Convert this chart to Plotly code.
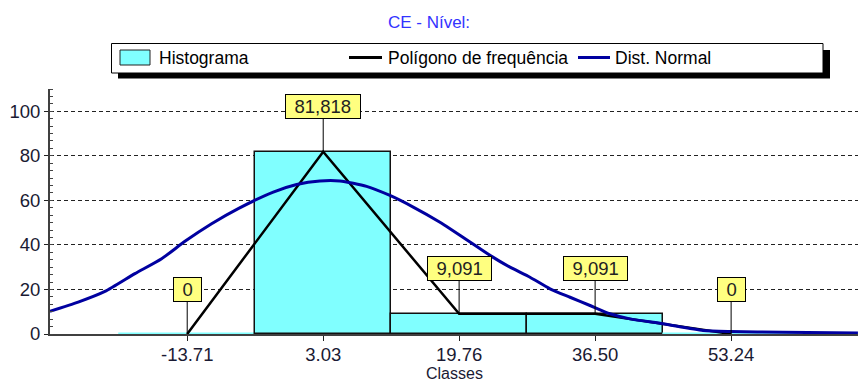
import plotly.graph_objects as go

# ---------------- data ----------------
class_mids = [-13.71, 3.03, 19.76, 36.50, 53.24]
class_labels = ["-13.71", "3.03", "19.76", "36.50", "53.24"]
freq_pct = [0.0, 81.818, 9.091, 9.091, 0.0]

normal_x = [-30.61, -27.13, -23.84, -20.15, -16.86, -13.99, -10.71, -7.43, -3.12, -0.24,
            2.62, 5.09, 8.37, 11.24, 14.11, 17.40, 18.64, 21.10, 23.56, 26.02,
            28.48, 30.95, 33.41, 35.87, 38.33, 40.79, 44.85, 49.78, 53.10, 59.62, 68.85]
normal_y = [10.2, 14.3, 19.1, 27.1, 33.8, 41.6, 49.5, 56.3, 63.7, 67.1,
            68.7, 68.7, 66.3, 62.2, 57.0, 50.2, 47.3, 41.3, 35.3, 30.0,
            25.5, 20.3, 16.5, 12.8, 9.1, 6.8, 4.6, 1.6, 1.1, 0.8, 0.4]

title_text = "CE - Nível:"
x_title = "Classes"
legend_names = ["Histograma", "Polígono de frequência", "Dist. Normal"]

# ---------------- style ----------------
W, H = 858, 381
ML, MR, MT, MB = 50, 0, 89, 47
PW, PH = W - ML - MR, H - MT - MB
FONT = "Arial, Liberation Sans, sans-serif"
CYAN = "#80ffff"
NAVY = "#0000a0"
TXT = "#1a1a33"

def xp(px):
    return (px - ML) / PW

def yp(py):
    return (H - MB - py) / PH

class_w = class_mids[1] - class_mids[0]

fig = go.Figure()

bar_line_colors = ["rgba(128,255,255,1)" if v == 0 else "#111111" for v in freq_pct]
fig.add_trace(go.Bar(
    x=class_mids, y=freq_pct, width=[class_w] * len(class_mids),
    marker=dict(color=CYAN, line=dict(color=bar_line_colors, width=1.5)),
    name=legend_names[0], showlegend=False, hoverinfo="skip",
))
fig.add_trace(go.Scatter(
    x=class_mids, y=freq_pct, mode="lines",
    line=dict(color="#000000", width=2.5),
    name=legend_names[1], showlegend=False, hoverinfo="skip",
))
fig.add_trace(go.Scatter(
    x=normal_x, y=normal_y, mode="lines",
    line=dict(color=NAVY, width=3, shape="spline", smoothing=0.6),
    name=legend_names[2], showlegend=False, hoverinfo="skip",
))

# value labels
def fmt(v):
    return "0" if v == 0 else f"{v:.3f}".replace(".", ",")

def text_w(s, size=18.5):
    w = 0
    for ch in s:
        w += 0.278 if ch in ",." else 0.556
    return w * size

annotations = []
for xm, v in zip(class_mids, freq_pct):
    s = fmt(v)
    annotations.append(dict(
        x=xm, y=v, xref="x", yref="y", text=s,
        showarrow=True, arrowhead=0, arrowwidth=1, arrowcolor="#000000",
        ax=0, ay=-45, standoff=0,
        bgcolor="#ffff80", bordercolor="#000000", borderwidth=1, borderpad=1,
        width=text_w(s) + 15, height=21,
        font=dict(family=FONT, size=18.5, color="#222222"),
    ))

# x-axis title
annotations.append(dict(
    x=0.5, y=yp(373.5), xref="paper", yref="paper", text=x_title,
    showarrow=False, xanchor="center", yanchor="middle",
    font=dict(family=FONT, size=16, color=TXT),
))

# manual legend
shapes = []
shapes.append(dict(type="rect", xref="paper", yref="paper",
                   x0=xp(118), x1=xp(830), y0=yp(78.5), y1=yp(50),
                   fillcolor="#000000", line=dict(width=0), layer="above"))
shapes.append(dict(type="rect", xref="paper", yref="paper",
                   x0=xp(111.5), x1=xp(823), y0=yp(73), y1=yp(43.5),
                   fillcolor="#ffffff", line=dict(color="#000000", width=1), layer="above"))
shapes.append(dict(type="rect", xref="paper", yref="paper",
                   x0=xp(120), x1=xp(150), y0=yp(65), y1=yp(50),
                   fillcolor=CYAN, line=dict(color="#222222", width=1), layer="above"))
shapes.append(dict(type="line", xref="paper", yref="paper",
                   x0=xp(349), x1=xp(382), y0=yp(57.5), y1=yp(57.5),
                   line=dict(color="#000000", width=3), layer="above"))
shapes.append(dict(type="line", xref="paper", yref="paper",
                   x0=xp(578), x1=xp(610), y0=yp(57.5), y1=yp(57.5),
                   line=dict(color=NAVY, width=3), layer="above"))
for name, px in zip(legend_names, [157, 386, 613]):
    annotations.append(dict(
        x=xp(px), y=yp(57.5), xref="paper", yref="paper", text=name,
        showarrow=False, xanchor="left", yanchor="middle",
        font=dict(family=FONT, size=17.5, color="#000000"),
    ))

fig.update_layout(
    width=W, height=H,
    margin=dict(l=ML, r=MR, t=MT, b=MB, pad=0),
    paper_bgcolor="#ffffff", plot_bgcolor="#ffffff",
    showlegend=False,
    bargap=0,
    title=dict(text=title_text, x=0.5, xref="container", xanchor="center",
               y=1 - 22.5 / H, yref="container", yanchor="middle",
               font=dict(family=FONT, size=17, color="#3333ff")),
    shapes=shapes,
    annotations=annotations,
    font=dict(family=FONT),
)

fig.update_xaxes(
    range=[-30.6, -30.6 + PW / 8.124],
    tickmode="array", tickvals=class_mids, ticktext=class_labels,
    ticks="outside", ticklen=5, tickwidth=1, tickcolor="#222222",
    tickfont=dict(family=FONT, size=18.5, color=TXT),
    ticklabelstandoff=-2,
    showline=True, linecolor="#404040", linewidth=2,
    showgrid=False, zeroline=False, automargin=False,
    layer="below traces",
)
fig.update_yaxes(
    range=[0, 110],
    tick0=0, dtick=20,
    ticks="outside", ticklen=4, tickwidth=1, tickcolor="#222222",
    tickfont=dict(family=FONT, size=18.5, color=TXT),
    showline=True, linecolor="#404040", linewidth=2,
    showgrid=True, gridcolor="#222222", gridwidth=1, griddash="4px,3px",
    zeroline=False, automargin=False,
    minor=dict(ticks="inside", ticklen=3, dtick=20 / 6, tickcolor="#444444", showgrid=False),
)

fig.write_html("out.html", config={"displayModeBar": False},
               post_script="document.body.style.margin='0px';")
